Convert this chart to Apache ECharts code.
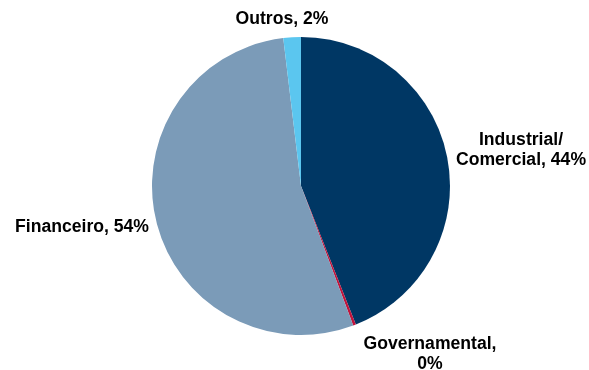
<!DOCTYPE html>
<html>
<head>
<meta charset="utf-8">
<script src="https://cdn.jsdelivr.net/npm/echarts@6/dist/echarts.min.js"></script>
<style>
  html, body { margin: 0; padding: 0; background: #fff; }
  #chart { width: 589px; height: 370px; }
</style>
</head>
<body>
<div id="chart"></div>
<script>
// Sectors, clockwise from 12 o'clock
const sectors = ['Industrial/\nComercial', 'Governamental', 'Financeiro', 'Outros'];
const shares = [44.0, 0.3, 53.8, 1.9];
// text between name and percentage
const separators = [', ', ',\n', ', ', ', '];
const colors = ['#003764', '#c0143c', '#7b9bb8', '#5bc6ef'];
// label anchor points (centre of each text block)
const labelSpots = [[521, 150], [430, 354], [82, 227], [282, 19]];

const chart = echarts.init(document.getElementById('chart'), null, { renderer: 'canvas' });

chart.setOption({
  animation: false,
  series: [{
    type: 'pie',
    center: [301, 186],
    radius: 149,
    startAngle: 90,
    clockwise: true,
    avoidLabelOverlap: false,
    data: sectors.map((name, i) => ({
      name: name,
      value: shares[i],
      itemStyle: { color: colors[i] }
    })),
    itemStyle: { borderWidth: 0 },
    label: {
      show: true,
      position: 'outside',
      fontFamily: 'Liberation Sans, Arial, sans-serif',
      fontWeight: 'bold',
      fontSize: 17.6,
      lineHeight: 20.5,
      color: '#000',
      align: 'center',
      formatter: p => p.name + separators[p.dataIndex] + Math.round(p.value) + '%'
    },
    labelLine: { show: false },
    labelLayout: p => ({
      x: labelSpots[p.dataIndex][0],
      y: labelSpots[p.dataIndex][1],
      align: 'center',
      verticalAlign: 'middle'
    })
  }]
});
</script>
</body>
</html>
